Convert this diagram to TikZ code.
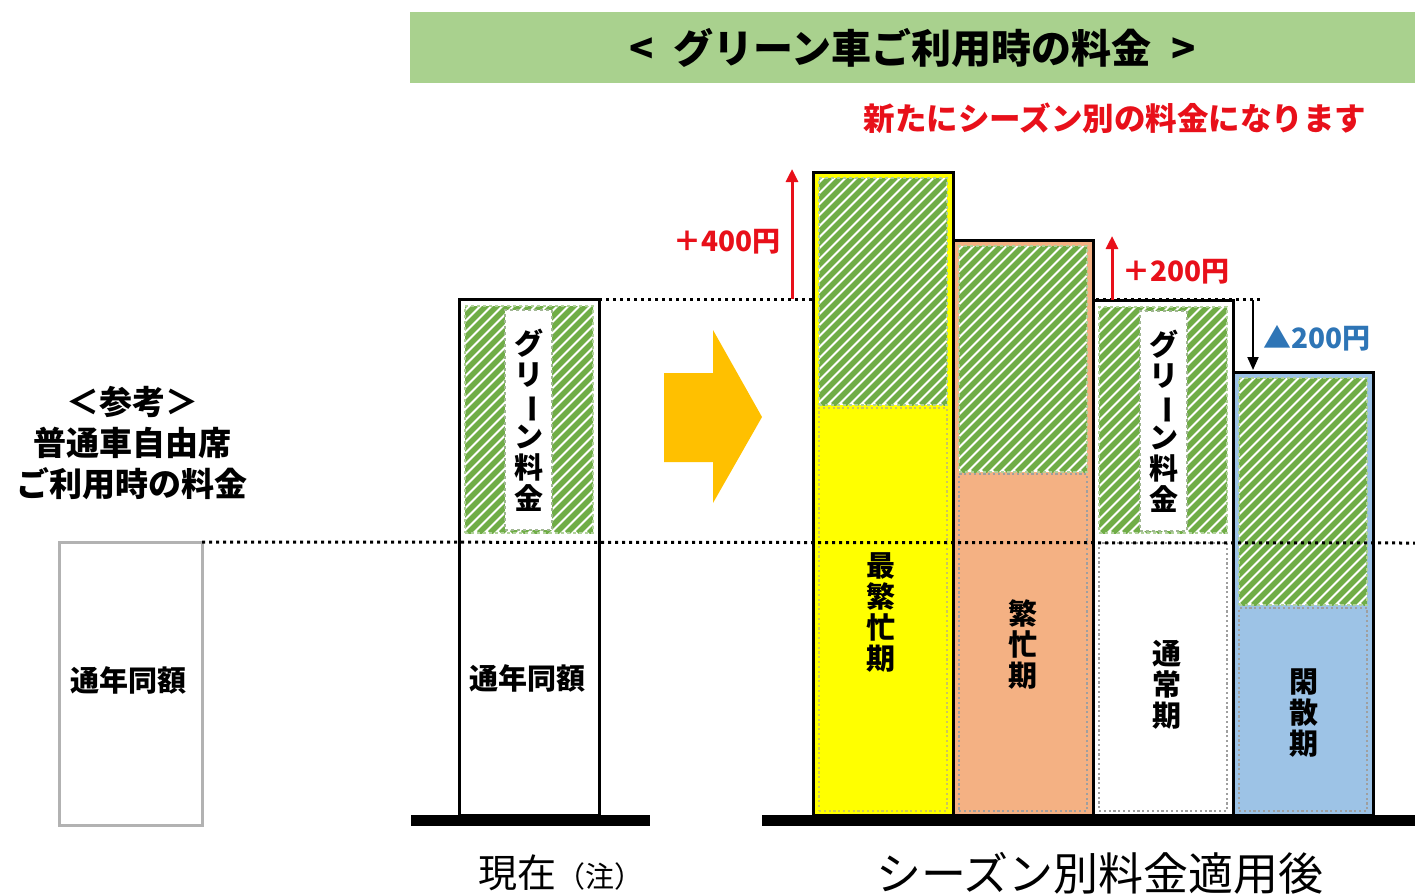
\documentclass[tikz,border=0pt]{standalone}
\usepackage{fontspec}
\setmainfont{Noto Sans CJK JP}
\usepackage{graphicx}
\usetikzlibrary{arrows.meta, positioning}

\definecolor{bannergreen}{HTML}{A9D18E}
\definecolor{hatchgreen}{HTML}{70AD47}
\definecolor{peakyellow}{HTML}{FFFF00}
\definecolor{busysalmon}{HTML}{F4B183}
\definecolor{offblue}{HTML}{9DC3E6}
\definecolor{arrowgold}{HTML}{FFC000}
\definecolor{notered}{HTML}{E8101A}
\definecolor{downblue}{HTML}{2E75B6}

\begin{document}
\begin{tikzpicture}[x=1pt, y=-1pt,
		bar/.style={rectangle, draw, line width=3pt, inner sep=0pt, outer sep=0pt, anchor=south west, minimum width=140pt},
		hatch/.style={rectangle, inner sep=0pt, outer sep=0pt, anchor=north west, minimum width=128pt,
			fill=white, draw=hatchgreen!55, dashed, line width=1.2pt,
			path picture={\foreach \k in {-250,-239,...,140}
				\draw[hatchgreen, solid, line width=5.4pt] ([xshift=\k pt]path picture bounding box.south west) -- ++(300,-300);}},
		strip/.style={rectangle, inner sep=0pt, outer sep=0pt, anchor=north west, minimum width=47pt,
			fill=white, draw=hatchgreen!50!gray!70, dashed, line width=1.2pt},
		lowbox/.style={rectangle, inner sep=0pt, outer sep=0pt, anchor=south west, minimum width=128pt,
			draw=gray!75, line width=2.2pt, dash pattern=on 2.2pt off 2.6pt},
		guide/.style={line width=3pt, dash pattern=on 3pt off 4pt},
		ground/.style={line width=11pt},
		vlabel/.style={align=center, inner sep=0pt, font=\bfseries\fontsize{29}{31}\selectfont},
		plainlabel/.style={inner sep=0pt, font=\bfseries\fontsize{29}{31}\selectfont},
		pricelabel/.style={inner sep=0pt, font=\bfseries\fontsize{28}{30}\selectfont},
		uparrow/.style={draw=notered, line width=3pt, -{Triangle[length=13pt,width=12pt]}},
		downarrow/.style={draw=black, line width=2pt, -{Triangle[length=13pt,width=11pt]}}
		]
		\useasboundingbox (0,0) rectangle (1415,895);

		\node[fill=bannergreen, anchor=north west, inner sep=0pt, minimum width=1005pt, minimum height=71pt,
		font=\bfseries\fontsize{40}{42}\selectfont](Head) at (410,12){<\hspace{20pt}グリーン車ご利用時の料金\hspace{20pt}>};
		\node[text=notered, font=\bfseries\fontsize{31.5}{33}\selectfont](Note) at (1115,118){新たにシーズン別の料金になります};

		\node[align=center, font=\bfseries\fontsize{33}{41}\selectfont](Ref) at (132,443){＜参考＞\\普通車自由席\\ご利用時の料金};
		\node[bar, draw=gray!60, minimum width=143pt, minimum height=283pt](R0) at (59,825){};
		\node[plainlabel](R0t) at (128,680){通年同額};

		\coordinate (G0) at (599,299);
		\coordinate (G1) at (1262,299);
		\draw[guide] (G0) -- (G1);

		\fill[arrowgold] (664,373) -- (713,373) -- (713,330) -- (762,417) -- (713,503) -- (713,462) -- (664,462) -- cycle;

		\node[bar, fill=white, minimum height=516pt](P0) at (459,815){};
		\node[hatch, minimum height=227pt](H0) at ([shift={(6,7)}]P0.north west){};
		\node[strip, minimum height=220pt](W0) at (505,310){};
		\node[vlabel](W0t) at (W0.center){グ\\リ\\\rotatebox[origin=c]{-90}{ー}\\ン\\料\\金};
		\node[plainlabel](P0t) at (527,678){通年同額};

		\node[bar, fill=peakyellow, minimum height=643pt](P1) at (813,815){};
		\node[hatch, minimum height=227pt](H1) at ([shift={(6,6)}]P1.north west){};
		\node[lowbox, draw=yellow!55!gray, minimum height=403pt](L1) at ([shift={(6,-4)}]P1.south west){};
		\node[vlabel](P1t) at (881,612){最\\繁\\忙\\期};

		\node[bar, fill=busysalmon, minimum height=575pt](P2) at (P1.south east){};
		\node[hatch, minimum height=226pt](H2) at ([shift={(6,6)}]P2.north west){};
		\node[lowbox, minimum height=337pt](L2) at ([shift={(6,-4)}]P2.south west){};
		\node[vlabel](P2t) at (1023,645){繁\\忙\\期};

		\node[bar, fill=white, minimum height=515pt](P3) at (P2.south east){};
		\node[hatch, minimum height=226pt](H3) at ([shift={(6,7)}]P3.north west){};
		\node[strip, minimum height=220pt](W3) at (1140,311){};
		\node[vlabel](W3t) at (W3.center){グ\\リ\\\rotatebox[origin=c]{-90}{ー}\\ン\\料\\金};
		\node[lowbox, minimum height=268pt](L3) at ([shift={(6,-4)}]P3.south west){};
		\node[vlabel](P3t) at (1167,685){通\\常\\期};

		\node[bar, fill=offblue, minimum height=443pt](P4) at (P3.south east){};
		\node[hatch, minimum height=227pt](H4) at ([shift={(6,6)}]P4.north west){};
		\node[lowbox, minimum height=203pt](L4) at ([shift={(6,-4)}]P4.south west){};
		\node[vlabel](P4t) at (1304,713){閑\\散\\期};

		\coordinate (G3) at (1415,543);
		\draw[guide] (R0.north east) -- (G3);

		\coordinate (U1) at (792,299);
		\coordinate (U1t) at (792,169);
		\draw[uparrow] (U1) -- (U1t);
		\node[pricelabel, text=notered, anchor=east](U1l) at (781,242){＋400円};

		\coordinate (U2) at (1112,300);
		\coordinate (U2t) at (1112,236);
		\draw[uparrow] (U2) -- (U2t);
		\node[pricelabel, text=notered, anchor=west](U2l) at (1122,272){＋200円};

		\coordinate (D1) at (1253,300);
		\coordinate (D1b) at (1253,370);
		\draw[downarrow] (D1) -- (D1b);
		\node[pricelabel, text=downblue, anchor=west](D1l) at (1263,338){▲200円};

		\coordinate (B0a) at (411,820);
		\coordinate (B0b) at (650,820);
		\draw[ground] (B0a) -- (B0b);
		\coordinate (B1a) at (762,820);
		\coordinate (B1b) at (1415,820);
		\draw[ground] (B1a) -- (B1b);

		\node[font=\fontsize{39}{44}\selectfont](Now) at (561,873){現在{\fontsize{29}{30}\selectfont （注）}};
		\node[font=\fontsize{45}{48}\selectfont](After) at (1100,873){シーズン別料金適用後};

	\end{tikzpicture}
\end{document}
